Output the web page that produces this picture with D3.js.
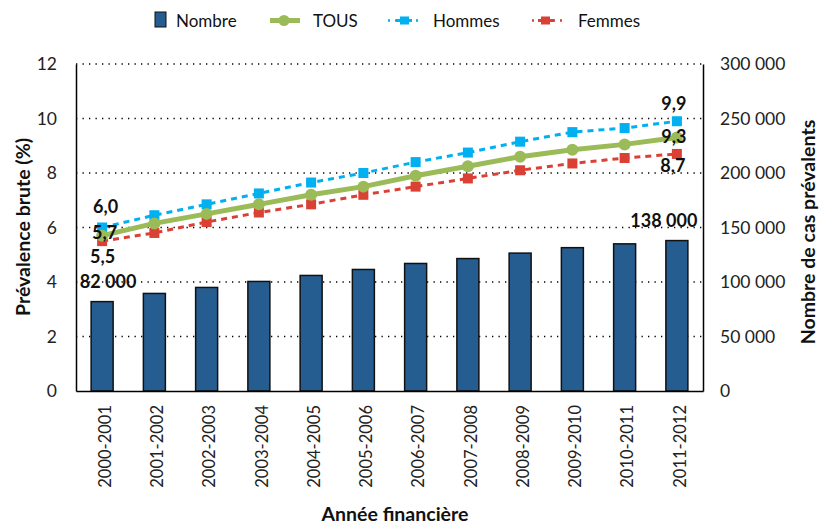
<!DOCTYPE html>
<html><head><meta charset="utf-8">
<script src="https://cdn.jsdelivr.net/npm/d3@7"></script>
<style>body{margin:0;background:#fff}svg{display:block;font-family:Lato,"Open Sans",sans-serif}</style>
</head><body><svg id="c" width="825" height="525"></svg>
<script>
const categories = ["2000-2001","2001-2002","2002-2003","2003-2004","2004-2005","2005-2006","2006-2007","2007-2008","2008-2009","2009-2010","2010-2011","2011-2012"];
const nombre = [82000,89500,95000,100500,106000,111500,117000,121500,126500,131500,135000,138000];
const tous = [5.7,6.15,6.5,6.85,7.2,7.5,7.9,8.25,8.6,8.85,9.05,9.3];
const hommes = [6.0,6.45,6.85,7.25,7.65,8.0,8.4,8.75,9.15,9.5,9.65,9.9];
const femmes = [5.5,5.8,6.2,6.55,6.85,7.2,7.5,7.8,8.1,8.35,8.55,8.7];
const leftTicks = [0,2,4,6,8,10,12];
const rightTicks = [0,50000,100000,150000,200000,250000,300000];

const svg = d3.select("#c");
const L=76, R=703, T=64, B=391;
const x = d3.scaleBand().domain(categories).range([L,R]);
const yL = d3.scaleLinear().domain([0,12]).range([B,T]);
const yR = d3.scaleLinear().domain([0,300000]).range([B,T]);
const fmt = v => d3.format(",")(v).replace(/,/g," ");
const cx = (d,i)=>x(categories[i])+x.bandwidth()/2;

// grid
svg.append("g").selectAll("line").data(leftTicks.filter(d=>d>0)).join("line")
  .attr("x1",L).attr("x2",R).attr("y1",d=>yL(d)).attr("y2",d=>yL(d))
  .attr("stroke","#000").attr("stroke-width",1.3).attr("stroke-dasharray","1.3,5.2");

// bars
const bw = 22;
svg.append("g").selectAll("rect").data(nombre).join("rect")
  .attr("x",(d,i)=>cx(d,i)-bw/2).attr("width",bw)
  .attr("y",d=>yR(d)).attr("height",d=>B-yR(d))
  .attr("fill","#265D91").attr("stroke","#111").attr("stroke-width",1.5);

// axes
const gL = svg.append("g").attr("transform",`translate(${L},0)`)
  .call(d3.axisLeft(yL).tickValues(leftTicks).tickSize(0).tickPadding(19));
const gR = svg.append("g").attr("transform",`translate(${R},0)`)
  .call(d3.axisRight(yR).tickValues(rightTicks).tickSize(0).tickPadding(17).tickFormat(fmt));
const gB = svg.append("g").attr("transform",`translate(0,${B})`)
  .call(d3.axisBottom(x).tickSize(0));
[gL,gR,gB].forEach(g=>{g.select(".domain").attr("stroke","#000").attr("stroke-width",1.5);
  g.selectAll("text").attr("font-family","Lato,sans-serif").attr("fill","#222");});
gL.selectAll("text").attr("font-size",17.5);
gR.selectAll("text").attr("font-size",17.5);
gB.selectAll(".tick text").attr("font-size",16.5).attr("transform","rotate(-90)")
  .attr("text-anchor","end").attr("x",-14).attr("y",3).attr("dy","0.35em");

// lines
const line = d3.line().x(cx).y(d=>yL(d));
function series(data,color,width,dash,marker){
  svg.append("path").datum(data).attr("d",line).attr("fill","none")
    .attr("stroke",color).attr("stroke-width",width).attr("stroke-dasharray",dash);
  const g = svg.append("g");
  if(marker==="circle"){
    g.selectAll("circle").data(data).join("circle").attr("cx",cx).attr("cy",d=>yL(d)).attr("r",6).attr("fill",color);
  } else {
    g.selectAll("rect").data(data).join("rect").attr("x",(d,i)=>cx(d,i)-5).attr("y",d=>yL(d)-5)
      .attr("width",10).attr("height",10).attr("fill",color);
  }
}
series(hommes,"#00B0F0",3,"6,5","sq");
series(femmes,"#DB4035",3,"6,5","sq");
series(tous,"#9BBB59",5,null,"circle");

// data labels
const lab = (t,xx,yy)=>svg.append("text").attr("x",xx).attr("y",yy).attr("text-anchor","middle")
  .attr("font-size",18).attr("font-weight","bold").attr("fill","#111").text(t);
const x0 = cx(0,0), x11 = cx(0,11);
lab("6,0",x0+3.5,yL(hommes[0])-14.5);
lab("5,7",x0+2.5,yL(tous[0])+3.5);
lab("5,5",x0+0.5,yL(femmes[0])+22);
lab("82 000",x0+6,yR(nombre[0])-13.5);
lab("9,9",x11-3,yL(hommes[11])-11);
lab("9,3",x11-3,yL(tous[11])+5.5);
lab("8,7",x11-4,yL(femmes[11])+18);
lab("138 000",x11-13,yR(nombre[11])-14);

// axis titles
svg.append("text").attr("transform",`translate(30,227) rotate(-90)`).attr("text-anchor","middle")
  .attr("font-size",19.5).attr("font-weight","bold").attr("fill","#111").text("Prévalence brute (%)");
svg.append("text").attr("transform",`translate(815,232) rotate(-90)`).attr("text-anchor","middle")
  .attr("font-size",19.5).attr("font-weight","bold").attr("fill","#111").text("Nombre de cas prévalents");
svg.append("text").attr("x",395).attr("y",521).attr("text-anchor","middle")
  .attr("font-size",19.5).attr("font-weight","bold").attr("fill","#111").text("Année financière");

// legend
const lg = svg.append("g").attr("font-size",17).attr("fill","#111");
lg.append("rect").attr("x",155).attr("y",12).attr("width",11).attr("height",15).attr("fill","#265D91").attr("stroke","#111").attr("stroke-width",1);
lg.append("text").attr("x",176).attr("y",27).text("Nombre");
lg.append("line").attr("x1",270).attr("x2",300).attr("y1",20.5).attr("y2",20.5).attr("stroke","#9BBB59").attr("stroke-width",5);
lg.append("circle").attr("cx",284).attr("cy",20.5).attr("r",5.5).attr("fill","#9BBB59");
lg.append("text").attr("x",313).attr("y",27).text("TOUS");
lg.append("line").attr("x1",388).attr("x2",419).attr("y1",20.5).attr("y2",20.5).attr("stroke","#00B0F0").attr("stroke-width",2.5).attr("stroke-dasharray","2,5");
lg.append("line").attr("x1",396).attr("x2",412).attr("y1",20.5).attr("y2",20.5).attr("stroke","#00B0F0").attr("stroke-width",3);
lg.append("rect").attr("x",400).attr("y",16.5).attr("width",9).attr("height",8).attr("fill","#00B0F0");
lg.append("text").attr("x",433).attr("y",27).text("Hommes");
lg.append("line").attr("x1",532).attr("x2",563).attr("y1",20.5).attr("y2",20.5).attr("stroke","#DB4035").attr("stroke-width",2.5).attr("stroke-dasharray","2,5");
lg.append("line").attr("x1",538).attr("x2",554).attr("y1",20.5).attr("y2",20.5).attr("stroke","#DB4035").attr("stroke-width",3);
lg.append("rect").attr("x",541).attr("y",16.5).attr("width",9).attr("height",8).attr("fill","#DB4035");
lg.append("text").attr("x",578).attr("y",27).text("Femmes");
</script></body></html>
